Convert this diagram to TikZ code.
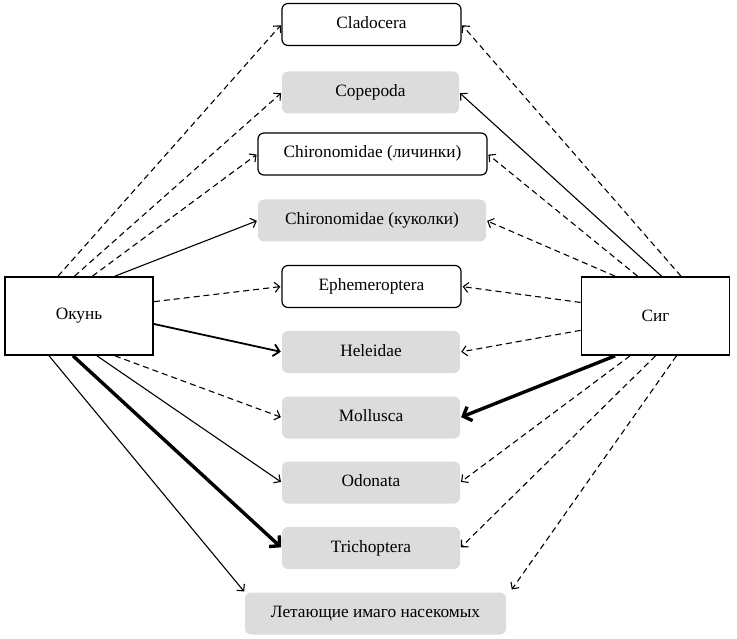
\documentclass[tikz,border=0pt]{standalone}
\usepackage{fontspec}
\setmainfont{Liberation Serif}
\usetikzlibrary{arrows.meta,calc}
\definecolor{boxgray}{HTML}{DCDCDC}
\tikzset{
  lbl/.style={font=\fontsize{17.3}{19}\selectfont, inner sep=0pt, minimum height=42pt, text height=11.5pt, text depth=3.5pt},
  wbox/.style={lbl, draw=black, line width=1.2pt, fill=white, rounded corners=6pt},
  gbox/.style={lbl, fill=boxgray, rounded corners=6pt},
  fish/.style={draw=black, line width=1.7pt, fill=white, minimum width=148pt, minimum height=78pt, inner sep=0pt, font=\fontsize{17.3}{19}\selectfont},
  thin/.style={line width=1.1pt, -{Straight Barb[length=5pt,width=10pt,line width=1.1pt]}, shorten >=1pt},
  dsh/.style={thin, dash pattern=on 6pt off 4pt},
  mid/.style={line width=1.8pt, -{Straight Barb[length=6pt,width=12pt,line width=1.8pt]}, shorten >=1pt},
  thick/.style={line width=3.4pt, -{Straight Barb[length=7pt,width=15pt,line width=3.4pt]}, shorten >=1pt},
}
\begin{document}
\begin{tikzpicture}[x=1pt,y=-1pt]
\useasboundingbox (0,0) rectangle (737,639);
\node[fish] (okun) at (79,316) {Окунь};
\node[fish] (sig) at (655.5,316) {Сиг};
\node[wbox, minimum width=179pt] (clad) at (371.5,24.5) {Cladocera};
\node[gbox, minimum width=177pt] (cope) at (370.5,92.5) {Copepoda};
\node[wbox, minimum width=229pt] (chl) at (372.5,154) {Chironomidae (личинки)};
\node[gbox, minimum width=228pt] (chk) at (372,220.5) {Chironomidae (куколки)};
\node[wbox, minimum width=179pt] (eph) at (371.5,286.5) {Ephemeroptera};
\node[gbox, minimum width=178pt] (hel) at (371,352) {Heleidae};
\node[gbox, minimum width=178pt] (mol) at (371,417.5) {Mollusca};
\node[gbox, minimum width=178pt] (odo) at (371,482.5) {Odonata};
\node[gbox, minimum width=178pt] (tri) at (371,548) {Trichoptera};
\node[gbox, minimum width=261pt] (let) at (375.5,613.5) {Летающие имаго насекомых};
% Okun
\draw[dsh] ($(okun.north west)!0.36!(okun.north east)$) -- (clad.west);
\draw[dsh] ($(okun.north west)!0.47!(okun.north east)$) -- (cope.west);
\draw[dsh] ($(okun.north west)!0.59!(okun.north east)$) -- (chl.west);
\draw[thin] ($(okun.north west)!0.74!(okun.north east)$) -- (chk.west);
\draw[dsh] ($(okun.north east)!0.32!(okun.south east)$) -- (eph.west);
\draw[mid] ($(okun.north east)!0.60!(okun.south east)$) -- (hel.west);
\draw[dsh] ($(okun.south west)!0.74!(okun.south east)$) -- (mol.west);
\draw[thin] ($(okun.south west)!0.62!(okun.south east)$) -- (odo.west);
\draw[thick] ($(okun.south west)!0.46!(okun.south east)$) -- (tri.west);
\draw[thin] ($(okun.south west)!0.30!(okun.south east)$) -- (let.north west);
% Sig
\draw[dsh] ($(sig.north west)!0.67!(sig.north east)$) -- (clad.east);
\draw[thin] ($(sig.north west)!0.54!(sig.north east)$) -- (cope.east);
\draw[dsh] ($(sig.north west)!0.38!(sig.north east)$) -- (chl.east);
\draw[dsh] ($(sig.north west)!0.23!(sig.north east)$) -- (chk.east);
\draw[dsh] ($(sig.north west)!0.33!(sig.south west)$) -- (eph.east);
\draw[dsh] ($(sig.north west)!0.68!(sig.south west)$) -- (hel.east);
\draw[thick] ($(sig.south west)!0.23!(sig.south east)$) -- (mol.east);
\draw[dsh] ($(sig.south west)!0.33!(sig.south east)$) -- (odo.east);
\draw[dsh] ($(sig.south west)!0.50!(sig.south east)$) -- (tri.east);
\draw[dsh] ($(sig.south west)!0.64!(sig.south east)$) -- ($(let.north east)+(5,-2)$);
\end{tikzpicture}
\end{document}
